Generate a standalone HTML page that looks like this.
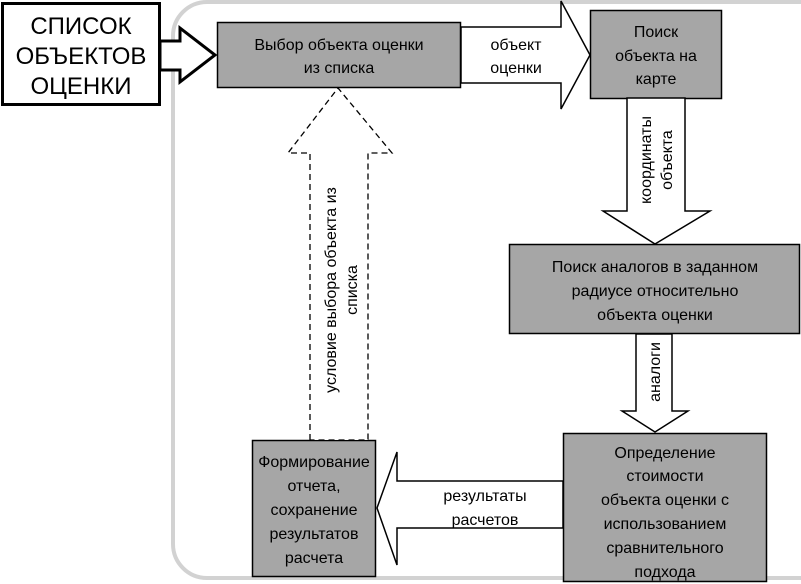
<!DOCTYPE html>
<html><head><meta charset="utf-8"><style>
html,body{margin:0;padding:0;background:#fff;}
svg{display:block;}
text{font-family:"Liberation Sans",Arial,sans-serif;fill:#000;}
</style></head><body>
<svg width="801" height="584" viewBox="0 0 801 584" xmlns="http://www.w3.org/2000/svg">
<rect x="173" y="2" width="680" height="576" rx="34" fill="none" stroke="#d2d2d2" stroke-width="4"/>

<!-- Список box -->
<rect x="2.5" y="3.5" width="157" height="101" fill="#fff" stroke="#000" stroke-width="3"/>
<g font-size="24" text-anchor="middle">
<text x="81" y="34">СПИСОК</text>
<text x="81" y="64">ОБЪЕКТОВ</text>
<text x="81" y="94">ОЦЕНКИ</text>
</g>
<polygon points="160,41 180,41 180,28 215,55 180,82 180,70 160,70" fill="#fff" stroke="#000" stroke-width="3"/>

<!-- Выбор -->
<rect x="217.5" y="22.5" width="243" height="65" fill="#a6a6a6" stroke="#000" stroke-width="1.5"/>
<g font-size="16" text-anchor="middle">
<text x="339" y="50">Выбор объекта оценки</text>
<text x="339" y="73">из списка</text>
</g>

<!-- arrow объект оценки -->
<polygon points="461,27 561,27 561,1 590,55 561,109 561,83 461,83" fill="#fff" stroke="#000" stroke-width="1.5"/>
<g font-size="16" text-anchor="middle">
<text x="516" y="50">объект</text>
<text x="516" y="73">оценки</text>
</g>

<!-- Поиск объекта на карте -->
<rect x="590.5" y="10.5" width="131" height="88" fill="#a6a6a6" stroke="#000" stroke-width="1.5"/>
<g font-size="16" text-anchor="middle">
<text x="656" y="37">Поиск</text>
<text x="656" y="61">объекта на</text>
<text x="656" y="84">карте</text>
</g>

<!-- arrow координаты -->
<polygon points="627,98 685,98 685,211 710,211 655,244 603,211 627,211" fill="#fff" stroke="#000" stroke-width="1.5"/>
<g font-size="16" text-anchor="middle" transform="translate(656,160) rotate(-90)">
<text x="0" y="-5">координаты</text>
<text x="0" y="16">объекта</text>
</g>

<!-- Поиск аналогов -->
<rect x="509.5" y="244.5" width="290" height="89" fill="#a6a6a6" stroke="#000" stroke-width="1.5"/>
<g font-size="16" text-anchor="middle">
<text x="655" y="272">Поиск аналогов в заданном</text>
<text x="655" y="296">радиусе относительно</text>
<text x="655" y="320">объекта оценки</text>
</g>

<!-- arrow аналоги -->
<polygon points="636,334 672,334 672,411 688,411 655,432 622,411 636,411" fill="#fff" stroke="#000" stroke-width="1.5"/>
<text font-size="16" text-anchor="middle" transform="translate(660,372) rotate(-90)">аналоги</text>

<!-- Определение -->
<rect x="563.5" y="433.5" width="203" height="148" fill="#a6a6a6" stroke="#000" stroke-width="1.5"/>
<g font-size="16" text-anchor="middle">
<text x="665" y="458">Определение</text>
<text x="665" y="481">стоимости</text>
<text x="665" y="505">объекта оценки с</text>
<text x="665" y="529">использованием</text>
<text x="665" y="553">сравнительного</text>
<text x="665" y="577">подхода</text>
</g>

<!-- arrow результаты -->
<polygon points="563,481 397,481 397,452 377,508 397,565 397,528 563,528" fill="#fff" stroke="#000" stroke-width="1.5"/>
<g font-size="16" text-anchor="middle">
<text x="485" y="501">результаты</text>
<text x="485" y="525">расчетов</text>
</g>

<!-- Формирование -->
<rect x="252.5" y="440.5" width="123" height="136" fill="#a6a6a6" stroke="#000" stroke-width="1.5"/>
<g font-size="16" text-anchor="middle">
<text x="314" y="467">Формирование</text>
<text x="314" y="491">отчета,</text>
<text x="314" y="515">сохранение</text>
<text x="314" y="539">результатов</text>
<text x="314" y="563">расчета</text>
</g>

<!-- dashed arrow -->
<polygon points="310,440 310,153 288,153 338,88 392,153 368,153 368,440" fill="#fff" stroke="#000" stroke-width="1.3" stroke-dasharray="6,4"/>
<g font-size="16" text-anchor="middle" transform="translate(339,290) rotate(-90)">
<text x="0" y="-3">условие выбора объекта из</text>
<text x="0" y="18">списка</text>
</g>
</svg>
</body></html>
